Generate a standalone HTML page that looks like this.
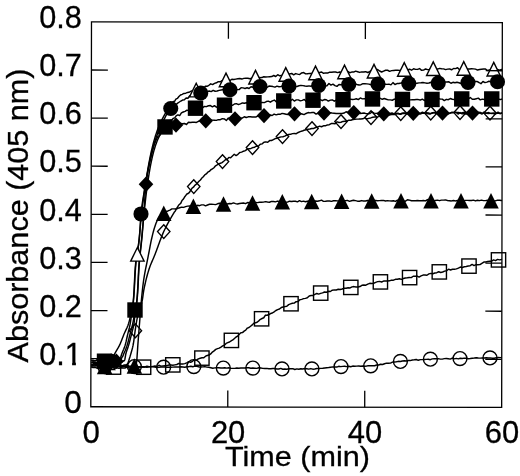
<!DOCTYPE html>
<html lang="en">
<head>
<meta charset="utf-8">
<title>Absorbance (405 nm) vs Time (min)</title>
<style>
html,body{margin:0;padding:0;background:#fff;}
body{width:520px;height:476px;overflow:hidden;}
svg{display:block;}
</style>
</head>
<body>
<svg width="520" height="476" viewBox="0 0 520 476">
<rect width="520" height="476" fill="#fff"/>
<g id="plot">
<path d="M91.15 362.2 L93.43 362.69 L95.74 362.59 L97.93 362.39 L100.01 362.78 L101.98 362.53 L103.83 363.21 L105.57 364 L107.2 362.9 L108.72 362.66 L110.12 362.13 L111.4 359.96 L112.55 357.95 L113.56 356.2 L114.42 354.38 L115.33 352.6 L116.34 350.86 L117.38 349.15 L118.39 347.42 L119.32 345.66 L120.15 343.85 L120.92 342.01 L121.66 340.15 L122.38 338.28 L123.11 336.41 L123.85 334.55 L124.65 332.71 L125.5 330.89 L126.36 329.07 L127.19 327.25 L127.94 325.4 L128.58 323.53 L129.14 321.62 L129.64 319.69 L130.11 317.74 L130.54 315.78 L130.96 313.81 L131.37 311.85 L131.77 309.89 L132.19 307.93 L132.58 305.96 L132.91 303.99 L133.15 302.02 L133.35 300.03 L133.53 298.05 L133.69 296.06 L133.83 294.06 L133.95 292.07 L134.07 290.07 L134.18 288.07 L134.27 286.06 L134.37 284.06 L134.46 282.06 L134.55 280.05 L134.65 278.05 L134.75 276.05 L134.86 274.05 L134.97 272.05 L135.1 270.05 L135.25 268.06 L135.41 266.07 L135.59 264.08 L135.79 262.1 L136.07 260.13 L136.44 258.16 L136.85 256.2 L137.22 254.23 L137.51 252.25 L137.78 250.27 L138.03 248.29 L138.28 246.3 L138.51 244.31 L138.73 242.32 L138.95 240.34 L139.16 238.35 L139.37 236.36 L139.57 234.37 L139.76 232.38 L139.95 230.39 L140.12 228.39 L140.3 226.4 L140.48 224.41 L140.66 222.42 L140.84 220.42 L141.03 218.43 L141.23 216.44 L141.44 214.46 L141.67 212.47 L141.9 210.48 L142.13 208.5 L142.38 206.51 L142.63 204.53 L142.89 202.54 L143.15 200.56 L143.42 198.58 L143.69 196.6 L143.97 194.61 L144.25 192.63 L144.54 190.65 L144.83 188.68 L145.12 186.7 L145.42 184.72 L145.72 182.74 L146.02 180.77 L146.33 178.79 L146.63 176.81 L146.95 174.83 L147.26 172.86 L147.59 170.88 L147.92 168.9 L148.26 166.93 L148.61 164.96 L148.97 162.99 L149.33 161.03 L149.71 159.07 L150.1 157.11 L150.51 155.16 L150.93 153.2 L151.36 151.25 L151.81 149.3 L152.28 147.34 L152.77 145.4 L153.27 143.46 L153.8 141.52 L154.34 139.59 L154.91 137.68 L155.49 135.77 L156.1 133.88 L156.75 132 L157.43 130.12 L158.16 128.24 L158.91 126.38 L159.7 124.53 L160.52 122.69 L161.37 120.88 L162.25 119.08 L163.15 117.32 L164.08 115.55 L165.06 113.79 L166.07 112.04 L167.13 110.97 L168.24 108.3 L169.38 106.94 L170.57 104.9 L171.8 103.46 L173.08 101.57 L174.45 101.55 L175.88 99.19 L177.37 98.42 L178.93 96.54 L180.53 94.99 L182.19 94.32 L183.94 93.46 L185.8 93.2 L187.73 92.43 L189.71 91.99 L191.72 90.86 L193.71 90.71 L195.67 91.65 L197.58 89.65 L199.47 88.77 L201.36 88.9 L203.25 88.81 L205.12 86.34 L207 86.31 L208.88 85.29 L210.75 83.85 L212.63 84.6 L214.51 83.43 L216.39 82.81 L218.28 81.69 L220.18 81.84 L222.09 80.74 L224.02 80.56 L225.95 79.64 L227.9 79.31 L229.86 80.59 L231.83 79.26 L233.81 79.54 L235.8 79.15 L237.79 78.73 L239.79 78.53 L241.8 79.06 L243.8 78.35 L245.81 78.29 L247.82 78.24 L249.83 78.78 L251.83 78.32 L253.83 77.98 L255.82 77.23 L257.81 76.55 L259.8 77.76 L261.8 77.57 L263.79 76.71 L265.78 76.91 L267.77 76.85 L269.76 76.68 L271.75 76.54 L273.74 75.52 L275.73 76.51 L277.72 74.68 L279.71 75.77 L281.71 75.39 L283.7 75.47 L285.69 75.93 L287.69 75.57 L289.69 73.87 L291.68 73.42 L293.68 74.81 L295.67 73.6 L297.67 74.1 L299.67 74.51 L301.67 72.92 L303.67 72.55 L305.66 73.88 L307.66 73.66 L309.66 73.4 L311.66 73.48 L313.66 72.86 L315.66 72.39 L317.66 73.11 L319.65 72.55 L321.65 72.07 L323.65 73.28 L325.65 72.87 L327.65 73.08 L329.65 72.17 L331.65 72.3 L333.64 72.03 L335.64 72.03 L337.64 72.62 L339.64 71.97 L341.64 72.6 L343.64 72.53 L345.64 73.48 L347.64 71.38 L349.64 72.7 L351.64 72.07 L353.64 72.08 L355.64 71.17 L357.64 71.73 L359.64 72.41 L361.64 71.87 L363.64 71.93 L365.64 71.66 L367.64 72.48 L369.63 71.72 L371.63 70.36 L373.63 71.2 L375.63 70.36 L377.63 69.5 L379.62 71.02 L381.62 72.02 L383.62 71.12 L385.61 70.25 L387.61 70.25 L389.6 71.35 L391.6 70.62 L393.6 70.41 L395.59 70.22 L397.59 70.15 L399.58 70.49 L401.58 70.24 L403.58 69.95 L405.58 69.13 L407.57 70 L409.57 69.22 L411.57 70.22 L413.57 68.75 L415.57 69.37 L417.57 69.4 L419.57 68.56 L421.57 70.34 L423.57 70.14 L425.57 68.95 L427.57 69.65 L429.57 69.38 L431.57 67.56 L433.57 69.25 L435.57 69.03 L437.57 69.09 L439.57 68.36 L441.57 68.82 L443.57 68.85 L445.57 69.64 L447.57 69.11 L449.57 68.88 L451.57 69.78 L453.57 68.51 L455.57 68.6 L457.57 67.73 L459.57 69.75 L461.57 69.38 L463.57 69.35 L465.57 69.21 L467.57 68.9 L469.57 69.01 L471.57 68.78 L473.56 68.88 L475.56 69.11 L477.56 70.06 L479.56 69.57 L481.56 69.28 L483.56 69.04 L485.56 69.07 L487.56 70.47 L489.56 69.86 L491.56 69.63 L493.56 69.39 L495.56 68.93 L497.56 69.56 L499.56 70.12 L501.56 69.36 L502 69.46" fill="none" stroke="#000" stroke-width="1.45" stroke-linejoin="round"/>
<path d="M91.15 364.54 L92.97 365.02 L94.95 364.99 L96.92 365.71 L98.9 365.89 L100.88 366.59 L102.87 366.35 L104.85 366.74 L106.84 366.98 L108.84 366.52 L110.83 366.45 L112.83 366.65 L114.83 366.6 L116.83 366.35 L118.83 366.72 L120.84 367.1 L122.84 366.54 L124.84 366.55 L126.85 366.34 L128.85 366.68 L130.85 366.29 L132.85 366.32 L134.85 366.92 L136.85 366.39 L138.85 366.91 L140.85 367.06 L142.85 366.79 L144.85 366.91 L146.85 367.32 L148.85 366.85 L150.85 366.81 L152.85 366.68 L154.85 367.08 L156.85 367.49 L158.85 367.4 L160.85 366.95 L162.85 366.98 L164.85 367.07 L166.85 367.25 L168.85 367.1 L170.85 367.17 L172.85 367.14 L174.85 366.94 L176.85 366.94 L178.85 366.95 L180.85 366.82 L182.85 366.91 L184.85 367.19 L186.85 366.83 L188.85 366.66 L190.84 366.19 L192.84 366.7 L194.84 366.12 L196.84 366.29 L198.84 366.93 L200.83 366.99 L202.83 366.9 L204.83 366.64 L206.83 367.13 L208.82 367.2 L210.82 367.68 L212.82 368.23 L214.81 367.85 L216.81 367.72 L218.81 367.71 L220.81 368.06 L222.8 368.05 L224.8 367.81 L226.8 368.13 L228.8 367.81 L230.8 368.38 L232.8 368.37 L234.8 368.37 L236.8 367.98 L238.8 368.23 L240.8 368.07 L242.8 368 L244.8 368.02 L246.8 367.78 L248.8 367.74 L250.8 368.3 L252.8 368.05 L254.8 368.16 L256.8 368.39 L258.8 367.75 L260.8 368.05 L262.8 368.36 L264.8 368.49 L266.8 368.38 L268.8 368.81 L270.8 368.69 L272.8 368.41 L274.8 368.55 L276.8 369.03 L278.79 368.99 L280.79 368.42 L282.79 369.24 L284.79 369.05 L286.79 369.24 L288.79 368.8 L290.8 368.83 L292.8 368.62 L294.8 369.53 L296.8 368.86 L298.8 369.3 L300.8 368.74 L302.8 368.94 L304.8 368.48 L306.8 368.8 L308.8 369.15 L310.8 368.59 L312.79 369.16 L314.79 368.93 L316.78 368.49 L318.78 368.5 L320.77 368.35 L322.76 368.27 L324.76 367.94 L326.75 367.66 L328.74 367.57 L330.73 367.17 L332.73 366.9 L334.72 367.02 L336.71 367.08 L338.71 366.34 L340.7 366.61 L342.7 366.37 L344.7 366.23 L346.7 366.63 L348.7 366.23 L350.7 366.69 L352.71 366.08 L354.71 366.34 L356.71 366.15 L358.71 365.98 L360.72 366.27 L362.72 366.04 L364.71 366.17 L366.71 365.95 L368.7 365.61 L370.69 365.77 L372.68 365.69 L374.66 365.74 L376.64 365.04 L378.62 364.98 L380.6 364.25 L382.57 364.5 L384.55 363.71 L386.52 363.16 L388.5 363.23 L390.47 363.15 L392.45 362.14 L394.42 361.92 L396.4 361.7 L398.38 361.34 L400.37 361.5 L402.36 361.01 L404.34 360.84 L406.34 360.98 L408.33 360.46 L410.32 360.58 L412.31 360.06 L414.31 359.83 L416.31 359.52 L418.3 360.3 L420.3 359.62 L422.3 359.64 L424.29 359.45 L426.29 359.4 L428.29 359.29 L430.29 359.68 L432.28 358.88 L434.28 358.7 L436.28 358.79 L438.28 358.66 L440.28 359.14 L442.28 359.12 L444.28 358.64 L446.28 358.5 L448.28 358.72 L450.28 359.13 L452.28 358.04 L454.28 358.84 L456.28 358.41 L458.28 358.9 L460.28 358.32 L462.28 358.48 L464.28 358.13 L466.28 358.22 L468.28 358.76 L470.28 358.57 L472.28 358.22 L474.28 358.06 L476.28 357.76 L478.28 358.08 L480.28 358.13 L482.28 358.07 L484.27 358.02 L486.27 357.71 L488.27 357.93 L490.27 357.88 L492.27 358.17 L494.27 358.26 L496.27 357.71 L498.27 357.5 L500.27 357.63 L502 357.45" fill="none" stroke="#000" stroke-width="1.45" stroke-linejoin="round"/>
<path d="M91.15 367.07 L93 367.53 L95 367.23 L97 368.11 L98.99 367.9 L100.99 368.17 L102.99 368.06 L104.99 367.89 L106.99 367.85 L108.99 368.22 L110.98 368.12 L112.98 368.49 L114.98 368.4 L116.98 367.78 L118.98 368.39 L120.97 367.71 L122.97 367.96 L124.97 368.02 L126.97 367.12 L128.97 367.98 L130.96 367.89 L132.96 367.62 L134.96 367.36 L136.95 367.25 L138.95 366.84 L140.95 367.02 L142.94 366.77 L144.94 366.93 L146.94 366.23 L148.94 366.76 L150.93 366.6 L152.93 366.35 L154.93 366.09 L156.93 366.41 L158.92 365.28 L160.92 366.1 L162.92 365.86 L164.91 365.72 L166.9 365.6 L168.89 364.96 L170.88 364.96 L172.87 365.16 L174.86 364.85 L176.84 364.51 L178.83 363.46 L180.82 364.08 L182.79 364.03 L184.76 363.61 L186.71 362.87 L188.66 361.65 L190.61 362.3 L192.55 361.28 L194.49 359.63 L196.4 360.32 L198.3 358.82 L200.17 358.21 L202 357.77 L203.79 357.82 L205.55 356.17 L207.28 355.46 L208.99 355.07 L210.69 353.91 L212.38 352.04 L214.08 350.88 L215.78 349.36 L217.5 348.59 L219.22 348.08 L220.94 347.04 L222.66 345.89 L224.38 345.26 L226.09 343.43 L227.79 342.7 L229.48 341.98 L231.15 340.83 L232.81 339.93 L234.44 338.48 L236.07 337 L237.68 336.12 L239.29 334.31 L240.89 332.82 L242.5 332.62 L244.11 331.15 L245.72 330.14 L247.35 328.07 L248.97 327.49 L250.59 326.21 L252.21 324.91 L253.83 323.12 L255.46 322.82 L257.1 322.22 L258.75 320.86 L260.41 319.31 L262.08 318.48 L263.77 317.76 L265.46 315.1 L267.16 315.23 L268.88 314.49 L270.61 313.54 L272.35 313.01 L274.1 311.8 L275.87 310.51 L277.65 309.62 L279.46 308.99 L281.28 307.56 L283.11 306.98 L284.96 306.62 L286.81 306.33 L288.67 304.62 L290.52 303.92 L292.38 303.29 L294.24 303.06 L296.1 301.69 L297.96 301.62 L299.82 299.77 L301.69 299.38 L303.56 298.65 L305.44 298.37 L307.32 297.79 L309.21 295.95 L311.1 295.56 L312.99 295.49 L314.89 294.43 L316.8 293.47 L318.71 294.08 L320.63 293.34 L322.56 292.87 L324.5 291.99 L326.45 292.25 L328.4 291.28 L330.36 291.5 L332.33 290.23 L334.3 289.9 L336.28 290.02 L338.25 289.28 L340.23 289.56 L342.21 289.03 L344.19 288.16 L346.16 288.27 L348.14 287.73 L350.11 287.94 L352.07 286.88 L354.04 286.59 L356 286.96 L357.97 287.04 L359.93 286.55 L361.9 285.3 L363.86 284.99 L365.83 285.21 L367.79 284.09 L369.76 283.34 L371.72 283.47 L373.69 283.26 L375.66 282.33 L377.63 281.62 L379.6 281.39 L381.57 282.01 L383.55 281.06 L385.53 281.04 L387.51 280.91 L389.49 280.81 L391.47 280.1 L393.45 280.2 L395.43 279.3 L397.41 279.26 L399.39 278.69 L401.37 279.37 L403.35 278.56 L405.33 277.95 L407.31 277.81 L409.28 277.55 L411.25 277.64 L413.22 276.26 L415.19 276.16 L417.15 276.09 L419.12 277.03 L421.08 275.94 L423.05 275.08 L425.01 275.06 L426.97 275.28 L428.93 273.85 L430.89 273.4 L432.86 273.72 L434.82 273 L436.78 272.69 L438.74 271.78 L440.71 272.49 L442.67 272.02 L444.63 271.12 L446.6 270.8 L448.56 269.2 L450.53 270.02 L452.49 269.27 L454.45 269.17 L456.42 268.9 L458.38 268.06 L460.34 267.06 L462.3 267.6 L464.27 266.72 L466.23 266.51 L468.19 265.99 L470.15 265.71 L472.11 264.41 L474.06 265.58 L476.02 264.71 L477.97 264.66 L479.92 264.61 L481.87 263.28 L483.83 262.02 L485.78 262 L487.73 261.43 L489.69 261.33 L491.65 261.19 L493.61 259.87 L495.57 260.56 L497.54 259.38 L499.51 259.88 L501.5 259.42 L502 259.26" fill="none" stroke="#000" stroke-width="1.45" stroke-linejoin="round"/>
<path d="M91.15 366.17 L93 365.98 L95 365.96 L97 365.53 L99 366.19 L101 366.94 L103 366.99 L105 366.73 L107.07 366.48 L109.21 365.92 L111.4 366.76 L113.63 366.15 L115.88 366.14 L118.12 366.03 L120.33 366.16 L122.51 365.91 L124.61 366.02 L126.63 365.58 L128.55 365.81 L130.34 366.81 L131.99 365.81 L133.47 365.66 L134.78 365.76 L135.98 363.79 L136.58 361.73 L136.83 359.8 L137 357.8 L137.13 355.75 L137.26 353.72 L137.41 351.73 L137.54 349.73 L137.66 347.73 L137.8 345.74 L137.94 343.74 L138.09 341.75 L138.24 339.75 L138.39 337.76 L138.55 335.77 L138.71 333.77 L138.86 331.78 L139.02 329.79 L139.18 327.79 L139.34 325.8 L139.5 323.8 L139.66 321.81 L139.81 319.82 L139.96 317.82 L140.11 315.83 L140.26 313.83 L140.42 311.84 L140.57 309.84 L140.74 307.85 L140.9 305.86 L141.08 303.87 L141.26 301.87 L141.44 299.88 L141.63 297.89 L141.82 295.9 L142.02 293.91 L142.23 291.91 L142.44 289.92 L142.66 287.94 L142.89 285.95 L143.14 283.97 L143.39 281.99 L143.67 280.01 L143.97 278.04 L144.29 276.06 L144.63 274.1 L145 272.13 L145.37 270.16 L145.76 268.2 L146.16 266.24 L146.56 264.28 L146.97 262.32 L147.37 260.35 L147.77 258.39 L148.16 256.43 L148.54 254.47 L148.91 252.5 L149.28 250.53 L149.65 248.57 L150.02 246.6 L150.4 244.63 L150.79 242.67 L151.2 240.72 L151.63 238.76 L152.07 236.82 L152.54 234.87 L153.03 232.92 L153.54 230.98 L154.09 229.06 L154.68 227.15 L155.32 225.27 L156.02 223.35 L156.79 221.46 L157.65 219.66 L158.63 217.6 L159.84 216.01 L161.25 214.67 L162.79 212.7 L164.4 211.95 L166.13 211.5 L167.98 210.95 L169.92 210.13 L171.89 208.89 L173.86 208.89 L175.79 208.94 L177.73 208.43 L179.69 207.8 L181.66 207.12 L183.64 207.4 L185.63 206.62 L187.62 206.11 L189.61 206 L191.61 206.67 L193.59 205.97 L195.58 206.14 L197.57 205.3 L199.56 205.68 L201.55 204.89 L203.54 204.9 L205.54 205.8 L207.53 204.96 L209.53 204.31 L211.53 204.34 L213.52 204.38 L215.52 204.61 L217.52 203.81 L219.52 203.2 L221.52 203.68 L223.51 203.71 L225.51 203.65 L227.51 204.05 L229.51 203.58 L231.51 203.7 L233.5 202.87 L235.5 203.59 L237.5 204.02 L239.5 203.43 L241.5 203.17 L243.5 203.07 L245.5 203.66 L247.5 202.51 L249.5 202.77 L251.5 202.92 L253.5 202.96 L255.49 202.4 L257.49 202.6 L259.49 202.27 L261.49 202.33 L263.49 202.12 L265.48 201.61 L267.48 201.96 L269.48 202.21 L271.48 201.38 L273.48 201.58 L275.47 201.86 L277.47 201.09 L279.47 201.53 L281.47 200.99 L283.47 201.84 L285.47 202.28 L287.47 202.13 L289.47 201.21 L291.47 201.57 L293.47 201.3 L295.47 201.27 L297.47 201.83 L299.47 200.67 L301.47 201.6 L303.47 201.14 L305.47 201.71 L307.47 201.21 L309.47 200.85 L311.47 201.21 L313.47 201.38 L315.47 201.09 L317.47 201.25 L319.47 200.83 L321.47 200.17 L323.47 201.38 L325.47 201.28 L327.47 201.05 L329.47 201 L331.47 201.38 L333.47 200.77 L335.47 200.66 L337.47 200.85 L339.47 201.39 L341.47 200.35 L343.47 201.36 L345.47 200.62 L347.47 200.42 L349.47 201.35 L351.47 200.8 L353.47 200.3 L355.47 200.66 L357.47 201.17 L359.47 201.26 L361.47 200.6 L363.47 200.92 L365.47 201.03 L367.47 200.47 L369.47 200.86 L371.47 200.69 L373.47 200.47 L375.47 200.47 L377.47 200.68 L379.47 200.65 L381.47 200.39 L383.47 200.43 L385.47 201.03 L387.47 200.65 L389.47 200.9 L391.47 201.02 L393.47 200.76 L395.47 201.42 L397.47 200.18 L399.47 200.82 L401.47 200.37 L403.47 201.24 L405.47 201.18 L407.47 199.72 L409.47 200.11 L411.47 200.77 L413.47 200.82 L415.47 200.79 L417.47 200.47 L419.47 200.68 L421.47 200.76 L423.47 200.47 L425.47 200.91 L427.47 199.6 L429.47 200.75 L431.47 200.09 L433.47 200.88 L435.47 200.41 L437.47 200.14 L439.47 200.65 L441.47 200.14 L443.47 200.13 L445.47 199.87 L447.47 200.49 L449.47 200.7 L451.47 200.91 L453.47 200.44 L455.47 200.92 L457.47 200.51 L459.47 200.46 L461.47 200.73 L463.47 200.92 L465.47 200.36 L467.47 200.4 L469.47 200.43 L471.47 200.53 L473.47 200.13 L475.47 200.9 L477.47 200.32 L479.47 200.66 L481.47 200.14 L483.47 200.61 L485.47 200.62 L487.47 200.29 L489.47 201.26 L491.47 200.6 L493.47 201.15 L495.47 200.82 L497.47 200.16 L499.47 200.26 L501.47 200.58 L502 200.42" fill="none" stroke="#000" stroke-width="1.45" stroke-linejoin="round"/>
<path d="M91.15 364.23 L93.1 364.01 L95.18 363.03 L97.23 363.87 L99.27 362.53 L101.28 363.9 L103.28 363.02 L105.25 362.77 L107.21 362.79 L109.16 362.77 L111.09 361.41 L113 360.86 L114.91 360.88 L116.81 359.88 L118.83 359.86 L120.6 360.47 L121.78 357.62 L122.69 356.46 L123.49 354.45 L124.28 352.56 L125.09 350.73 L125.85 348.87 L126.56 347 L127.19 345.11 L127.74 343.2 L128.26 341.26 L128.74 339.32 L129.21 337.37 L129.69 335.43 L130.19 333.49 L130.71 331.56 L131.24 329.62 L131.76 327.69 L132.25 325.75 L132.7 323.81 L133.1 321.85 L133.47 319.89 L133.83 317.92 L134.17 315.95 L134.51 313.97 L134.85 312 L135.22 310.04 L135.63 308.07 L136.03 306.11 L136.38 304.14 L136.64 302.17 L136.83 300.19 L137.01 298.2 L137.18 296.21 L137.33 294.22 L137.47 292.23 L137.59 290.24 L137.71 288.24 L137.82 286.24 L137.93 284.24 L138.03 282.24 L138.13 280.24 L138.22 278.24 L138.32 276.23 L138.42 274.23 L138.53 272.23 L138.64 270.23 L138.76 268.23 L138.89 266.23 L139.03 264.24 L139.18 262.24 L139.35 260.25 L139.53 258.26 L139.73 256.27 L139.94 254.28 L140.15 252.29 L140.37 250.31 L140.6 248.32 L140.82 246.33 L141.04 244.34 L141.26 242.35 L141.47 240.36 L141.66 238.37 L141.85 236.38 L142.04 234.39 L142.22 232.4 L142.4 230.41 L142.58 228.42 L142.76 226.42 L142.93 224.43 L143.1 222.44 L143.27 220.45 L143.43 218.45 L143.6 216.46 L143.76 214.47 L143.92 212.47 L144.06 210.48 L144.2 208.48 L144.33 206.48 L144.46 204.48 L144.59 202.48 L144.71 200.48 L144.84 198.48 L144.97 196.49 L145.11 194.49 L145.26 192.5 L145.41 190.5 L145.58 188.51 L145.76 186.53 L145.96 184.54 L146.18 182.56 L146.43 180.58 L146.71 178.6 L147.02 176.62 L147.34 174.65 L147.69 172.67 L148.06 170.7 L148.45 168.73 L148.85 166.76 L149.27 164.8 L149.7 162.85 L150.14 160.9 L150.59 158.95 L151.04 157.01 L151.51 155.05 L151.98 153.06 L152.48 151.06 L153 149.06 L153.56 147.07 L154.16 145.12 L154.8 143.22 L155.51 141.39 L156.28 139.64 L157.12 137.98 L158.15 135.91 L159.4 135.84 L160.81 133.42 L162.35 131.8 L163.95 131.12 L165.57 130.84 L167.22 129.19 L169 127.62 L170.88 126.96 L172.81 126.41 L174.75 125.07 L176.67 124.3 L178.6 124.52 L180.56 123.52 L182.53 123.69 L184.51 123.46 L186.5 124.5 L188.49 122.3 L190.47 122.46 L192.45 122.17 L194.44 122.29 L196.42 122.42 L198.41 121.27 L200.4 120.86 L202.39 120.17 L204.39 120.42 L206.38 121.12 L208.37 120.66 L210.36 119.88 L212.36 120.12 L214.35 120.23 L216.35 120.39 L218.35 119.61 L220.35 119.7 L222.34 118.63 L224.34 118.91 L226.34 120.45 L228.33 118.04 L230.33 119.01 L232.32 119.2 L234.31 118.68 L236.31 118.25 L238.3 118.5 L240.28 118.32 L242.27 118.05 L244.26 116.73 L246.24 117.52 L248.23 116.84 L250.21 116.77 L252.2 116.99 L254.19 116.99 L256.17 116.91 L258.16 115.85 L260.15 116.49 L262.14 116.46 L264.13 116.27 L266.12 116.27 L268.12 115.21 L270.11 115.05 L272.11 115.51 L274.1 114.07 L276.1 114.88 L278.1 114.32 L280.09 114.3 L282.09 113.36 L284.09 113.77 L286.09 114.19 L288.09 114.64 L290.08 114.62 L292.08 113.89 L294.08 113.75 L296.08 113.3 L298.08 113.97 L300.08 113.52 L302.08 113.97 L304.07 114.6 L306.07 113.48 L308.07 112.55 L310.07 112.88 L312.07 112.48 L314.07 112.59 L316.07 114.05 L318.07 113.36 L320.07 112.27 L322.07 113.53 L324.07 113.85 L326.07 112.84 L328.07 112.61 L330.07 112.77 L332.07 113.09 L334.07 113.26 L336.07 113.54 L338.07 113.52 L340.07 113.46 L342.07 113.53 L344.07 113.08 L346.07 111.73 L348.07 112.55 L350.07 112.8 L352.07 112.37 L354.07 113.15 L356.07 112.41 L358.06 112.11 L360.06 113.61 L362.06 113.23 L364.06 113.07 L366.06 113.61 L368.05 113.82 L370.05 113.51 L372.05 111.95 L374.05 113.14 L376.05 113.37 L378.04 113.14 L380.04 113.92 L382.04 114.55 L384.04 113.56 L386.04 113.16 L388.04 115.04 L390.04 113.53 L392.04 113.03 L394.04 113.88 L396.04 113.95 L398.04 113.23 L400.04 114.08 L402.04 113.27 L404.04 112.96 L406.04 113.58 L408.04 113.89 L410.04 113.02 L412.04 113.56 L414.04 113.28 L416.04 115.01 L418.04 112.87 L420.04 114.1 L422.04 113.22 L424.04 113.15 L426.04 113.64 L428.04 113.72 L430.04 113.92 L432.04 113.34 L434.04 112.77 L436.04 112.8 L438.04 113.41 L440.04 113.45 L442.04 113.94 L444.04 113.35 L446.04 113.74 L448.04 114.01 L450.04 113.2 L452.04 112.21 L454.04 112.39 L456.04 112.24 L458.04 114.05 L460.04 112.59 L462.04 113.84 L464.04 113.45 L466.04 114.13 L468.04 113.7 L470.04 113.04 L472.04 112.98 L474.04 113.15 L476.04 113.21 L478.04 112.78 L480.04 113.08 L482.04 114.07 L484.04 112.08 L486.04 113.26 L488.04 112.56 L490.04 113.21 L492.04 113.6 L494.04 113.07 L496.04 113.56 L498.04 112.15 L500.04 113.76 L502 112.74" fill="none" stroke="#000" stroke-width="1.45" stroke-linejoin="round"/>
<path d="M91.15 365.45 L93 365.27 L95 364.17 L97 364.9 L99 365.29 L101 365.82 L103 365.31 L105 365.3 L107.02 364.63 L109.18 365.76 L111.43 365.88 L113.75 365.12 L116.06 364.96 L118.32 364.31 L120.47 365.21 L122.47 365.81 L124.25 364.87 L125.78 364.91 L126.99 364.42 L127.91 363.16 L128.66 361.04 L129.33 358.72 L129.96 356.8 L130.53 354.88 L131.07 352.95 L131.63 351.03 L132.18 349.1 L132.68 347.17 L133.09 345.22 L133.44 343.25 L133.74 341.28 L134.02 339.3 L134.28 337.31 L134.53 335.33 L134.79 333.34 L135.06 331.35 L135.35 329.37 L135.65 327.4 L135.96 325.42 L136.28 323.44 L136.61 321.47 L136.95 319.5 L137.33 317.54 L137.72 315.57 L138.13 313.61 L138.57 311.65 L139.07 309.72 L139.63 307.81 L140.4 305.96 L141.24 304.12 L141.86 302.25 L142.27 300.31 L142.6 298.35 L142.89 296.36 L143.15 294.36 L143.44 292.37 L143.76 290.39 L144.14 288.43 L144.54 286.47 L144.96 284.51 L145.39 282.56 L145.85 280.61 L146.33 278.67 L146.83 276.73 L147.36 274.8 L147.9 272.87 L148.48 270.95 L149.08 269.05 L149.71 267.16 L150.4 265.29 L151.15 263.43 L151.94 261.59 L152.75 259.76 L153.55 257.93 L154.34 256.08 L155.09 254.23 L155.81 252.36 L156.51 250.48 L157.2 248.6 L157.88 246.71 L158.55 244.82 L159.23 242.93 L159.92 241.05 L160.62 239.17 L161.34 237.31 L162.08 235.46 L162.85 233.62 L163.65 231.81 L164.49 230.01 L165.36 228.21 L166.26 226.43 L167.18 224.65 L168.12 222.88 L169.09 221.12 L170.07 219.36 L171.08 217.62 L172.1 215.89 L173.14 214.17 L174.2 212.33 L175.27 211.14 L176.35 208.6 L177.45 207.32 L178.55 205.25 L179.68 204.18 L180.83 203.15 L182 200.57 L183.19 199.34 L184.41 197.29 L185.64 195.6 L186.9 193.99 L188.17 193.51 L189.46 192.34 L190.77 190.07 L192.1 188.11 L193.44 187.22 L194.79 185.36 L196.17 184.37 L197.56 182.73 L198.97 181.29 L200.4 179.99 L201.84 178.09 L203.3 176.75 L204.78 174.83 L206.27 173.96 L207.78 172.21 L209.31 171.39 L210.85 169.75 L212.4 168.89 L213.97 167.78 L215.56 165.81 L217.16 164.87 L218.77 163.68 L220.4 163.25 L222.04 162.57 L223.7 161.21 L225.39 159.75 L227.11 159.52 L228.86 157.4 L230.63 157.7 L232.43 155.95 L234.24 154.24 L236.07 155.57 L237.92 154.32 L239.77 152.47 L241.63 152.15 L243.5 151.21 L245.37 150.57 L247.24 149.16 L249.1 148.72 L250.96 148.42 L252.81 147.56 L254.65 147.2 L256.51 146 L258.36 146.17 L260.23 144.21 L262.09 143.87 L263.96 142.29 L265.84 141.85 L267.72 142.18 L269.6 140.58 L271.48 140.5 L273.37 139.59 L275.26 138.55 L277.16 138.19 L279.06 137.49 L280.96 136.89 L282.86 136.79 L284.77 136.16 L286.68 135.1 L288.6 134.41 L290.52 134.34 L292.45 133.65 L294.38 133.57 L296.31 133.7 L298.25 132.47 L300.18 131.61 L302.12 131.05 L304.06 130.28 L306 129.76 L307.94 129.23 L309.88 128.98 L311.82 128.48 L313.76 128.44 L315.69 127.48 L317.63 127.05 L319.57 126.13 L321.5 126.76 L323.44 125.79 L325.38 125.8 L327.32 124.91 L329.27 124.7 L331.21 123.53 L333.16 123.47 L335.11 123.83 L337.06 121.85 L339.02 122.43 L340.98 122.28 L342.95 121.44 L344.92 121.27 L346.89 121.18 L348.87 120.12 L350.85 120.28 L352.83 119.5 L354.82 119.33 L356.81 119.11 L358.79 119.06 L360.78 118.94 L362.77 118.82 L364.76 117.81 L366.75 118.96 L368.73 118.37 L370.72 117.94 L372.7 117.22 L374.68 117.03 L376.66 116.97 L378.64 116.59 L380.62 115.4 L382.6 116.06 L384.58 116.62 L386.56 114.34 L388.54 115.2 L390.52 114.67 L392.5 114.21 L394.49 114.6 L396.47 113.36 L398.46 113.77 L400.45 114.21 L402.44 113.47 L404.43 113.33 L406.43 113.5 L408.43 113.23 L410.43 114.02 L412.43 112.98 L414.43 113.68 L416.43 112.78 L418.43 113.54 L420.43 113.2 L422.44 112.16 L424.44 113.19 L426.44 112.73 L428.44 112.95 L430.44 113.74 L432.44 112.61 L434.44 112.59 L436.44 113.58 L438.44 112.99 L440.44 113.53 L442.44 112.99 L444.44 112.45 L446.44 112.74 L448.44 113.23 L450.44 113.08 L452.44 112.66 L454.44 112.65 L456.44 112.57 L458.44 112.36 L460.44 113.39 L462.44 112.61 L464.44 112.16 L466.44 112.46 L468.44 113 L470.44 113 L472.44 112.73 L474.44 112.56 L476.44 112.9 L478.44 112.25 L480.44 112.44 L482.43 113.35 L484.43 112.86 L486.43 113.23 L488.43 113.6 L490.43 113.37 L492.43 113.11 L494.43 113.98 L496.43 113.37 L498.43 112.95 L500.43 113.4 L502 113.27" fill="none" stroke="#000" stroke-width="1.45" stroke-linejoin="round"/>
<path d="M91.15 360.67 L93 361.25 L95 361.1 L97 359.99 L99 361.09 L101 361.03 L103 360.93 L105 360.19 L107.12 360.98 L109.42 361.18 L111.83 361.26 L114.25 360.5 L116.59 361.59 L118.78 360.45 L120.73 361.06 L122.36 362 L123.57 360.77 L124.33 360.66 L124.85 359.46 L125.27 357.09 L125.69 354.55 L126.21 352.48 L126.84 350.58 L127.51 348.69 L128.16 346.8 L128.74 344.89 L129.28 342.96 L129.79 341.03 L130.29 339.09 L130.78 337.15 L131.26 335.21 L131.74 333.27 L132.22 331.33 L132.75 329.39 L133.26 327.45 L133.71 325.5 L134.04 323.54 L134.26 321.56 L134.44 319.57 L134.59 317.57 L134.72 315.57 L134.88 313.56 L135.06 311.57 L135.3 309.59 L135.69 307.63 L136.18 305.68 L136.61 303.73 L136.88 301.76 L137.08 299.78 L137.27 297.8 L137.44 295.82 L137.59 293.83 L137.72 291.84 L137.85 289.84 L137.97 287.84 L138.07 285.84 L138.18 283.84 L138.27 281.84 L138.37 279.84 L138.46 277.83 L138.56 275.83 L138.66 273.83 L138.76 271.82 L138.87 269.82 L138.99 267.82 L139.12 265.82 L139.26 263.83 L139.41 261.83 L139.59 259.84 L139.77 257.85 L139.97 255.86 L140.18 253.87 L140.4 251.88 L140.62 249.9 L140.84 247.91 L141.07 245.92 L141.29 243.93 L141.5 241.94 L141.71 239.95 L141.9 237.96 L142.09 235.97 L142.27 233.98 L142.44 231.99 L142.6 229.99 L142.77 228 L142.93 226.01 L143.1 224.01 L143.27 222.02 L143.44 220.03 L143.61 218.03 L143.8 216.04 L143.99 214.05 L144.19 212.06 L144.39 210.07 L144.6 208.08 L144.81 206.09 L145.03 204.1 L145.25 202.12 L145.47 200.13 L145.7 198.14 L145.94 196.15 L146.18 194.17 L146.43 192.18 L146.68 190.2 L146.95 188.22 L147.21 186.24 L147.49 184.26 L147.78 182.28 L148.07 180.3 L148.36 178.32 L148.67 176.34 L148.99 174.36 L149.31 172.38 L149.65 170.4 L150 168.43 L150.36 166.46 L150.73 164.49 L151.12 162.53 L151.53 160.58 L151.95 158.63 L152.39 156.69 L152.85 154.75 L153.34 152.81 L153.87 150.86 L154.43 148.93 L155.03 147.01 L155.66 145.1 L156.33 143.21 L157.04 141.36 L157.78 139.53 L158.59 137.7 L159.47 135.88 L160.41 134.07 L161.41 132.3 L162.46 130.12 L163.56 128.97 L164.71 125.9 L165.92 126.21 L167.22 123.89 L168.6 123.32 L170.05 120.24 L171.56 120.36 L173.12 118.47 L174.72 117.86 L176.35 115.68 L177.99 114.84 L179.67 115.6 L181.42 112.82 L183.23 111.99 L185.08 111.38 L186.97 110.13 L188.88 110.73 L190.81 110.4 L192.74 108.38 L194.67 107.32 L196.59 108.72 L198.53 108.38 L200.48 107.93 L202.45 107.88 L204.43 106.44 L206.42 106.65 L208.42 105.73 L210.43 105.53 L212.44 106.79 L214.45 105.64 L216.46 107.25 L218.48 105.76 L220.49 105.17 L222.49 105.86 L224.48 106.28 L226.48 105.31 L228.47 104.1 L230.46 104.87 L232.45 105.29 L234.44 103.99 L236.43 103.64 L238.43 104.54 L240.42 103.85 L242.41 102.93 L244.41 103.2 L246.4 102.81 L248.39 103.29 L250.39 103.03 L252.38 103.5 L254.38 103.1 L256.37 101.6 L258.37 102.64 L260.36 102.8 L262.36 102.4 L264.35 102.61 L266.35 101.53 L268.35 101.16 L270.34 102.17 L272.34 100.85 L274.34 100.08 L276.34 101.89 L278.33 100.74 L280.33 100.9 L282.33 100.16 L284.33 100.13 L286.32 100.17 L288.32 100.58 L290.32 100.96 L292.32 99.3 L294.32 101.07 L296.32 99.86 L298.32 99.88 L300.32 100.88 L302.32 100.38 L304.32 99.46 L306.32 101.44 L308.32 99.78 L310.32 100.4 L312.32 100.33 L314.32 101.02 L316.32 99.86 L318.32 100.71 L320.32 99.62 L322.32 100.71 L324.32 99.55 L326.32 99.76 L328.31 101.08 L330.31 100.11 L332.31 99.95 L334.31 101.2 L336.31 100.04 L338.31 99.3 L340.31 100.19 L342.31 99 L344.31 100.35 L346.31 100.34 L348.31 99.22 L350.31 99.12 L352.31 99.54 L354.31 99.38 L356.31 98.71 L358.31 99.57 L360.31 97.94 L362.31 98.85 L364.31 98.82 L366.31 98.85 L368.3 99.17 L370.3 98.22 L372.3 99.3 L374.3 98.85 L376.3 98.58 L378.3 98.18 L380.3 98.32 L382.3 99.29 L384.3 98.54 L386.3 99.21 L388.3 99.86 L390.3 99.89 L392.3 100.25 L394.3 99.18 L396.3 98.74 L398.3 100.04 L400.3 99.63 L402.3 100.12 L404.3 99.46 L406.3 100.17 L408.3 99.96 L410.3 99.88 L412.3 99.75 L414.3 99.69 L416.3 99.59 L418.3 99.59 L420.3 100.04 L422.3 99.14 L424.3 100.49 L426.3 99.39 L428.3 100.04 L430.3 99.4 L432.3 99.3 L434.3 100.66 L436.3 99.24 L438.3 98.63 L440.3 98.93 L442.3 99.12 L444.3 100.56 L446.3 99.34 L448.3 99.73 L450.3 98.51 L452.3 99.28 L454.3 99.43 L456.3 100.08 L458.3 98.55 L460.3 99.32 L462.29 99.13 L464.29 98.34 L466.29 98.94 L468.29 98.79 L470.29 97.55 L472.29 99.31 L474.29 99.27 L476.29 98.69 L478.29 98.15 L480.29 99.84 L482.29 99.11 L484.29 99.56 L486.29 99.8 L488.29 98.64 L490.29 99.44 L492.29 98.81 L494.29 98.91 L496.29 98.88 L498.29 98.92 L500.29 99.58 L502 98.97" fill="none" stroke="#000" stroke-width="1.45" stroke-linejoin="round"/>
<path d="M91.15 360.11 L93.01 360.3 L95.01 360.89 L97.01 360.31 L99.01 360.68 L101.01 361.04 L103.01 360.79 L105 361.1 L107 360.82 L108.99 362.4 L110.98 362 L113.09 361.41 L115.34 360.92 L117.41 361.95 L118.95 360.41 L119.94 359.19 L120.71 357.25 L121.39 354.98 L122.11 352.93 L122.9 351.08 L123.69 349.24 L124.43 347.38 L125.06 345.49 L125.59 343.58 L126.07 341.63 L126.5 339.68 L126.93 337.72 L127.37 335.76 L127.84 333.82 L128.33 331.87 L128.82 329.93 L129.31 327.99 L129.75 326.04 L130.15 324.09 L130.49 322.12 L130.79 320.14 L131.06 318.16 L131.33 316.18 L131.59 314.19 L131.86 312.21 L132.15 310.23 L132.47 308.25 L132.79 306.28 L133.09 304.3 L133.32 302.32 L133.51 300.33 L133.68 298.34 L133.84 296.35 L133.98 294.36 L134.12 292.36 L134.24 290.36 L134.36 288.37 L134.47 286.37 L134.58 284.37 L134.68 282.37 L134.78 280.37 L134.89 278.37 L134.99 276.37 L135.1 274.37 L135.22 272.37 L135.35 270.37 L135.48 268.38 L135.63 266.38 L135.79 264.39 L135.96 262.4 L136.16 260.42 L136.4 258.43 L136.68 256.45 L136.98 254.47 L137.3 252.5 L137.62 250.52 L137.95 248.54 L138.27 246.57 L138.58 244.59 L138.87 242.61 L139.12 240.63 L139.34 238.64 L139.52 236.65 L139.67 234.66 L139.81 232.67 L139.93 230.67 L140.05 228.67 L140.16 226.67 L140.27 224.67 L140.38 222.67 L140.5 220.67 L140.63 218.68 L140.77 216.68 L140.93 214.69 L141.12 212.71 L141.33 210.72 L141.56 208.74 L141.82 206.76 L142.09 204.78 L142.38 202.8 L142.68 200.82 L143 198.84 L143.33 196.86 L143.66 194.89 L144 192.92 L144.34 190.94 L144.68 188.97 L145.02 187 L145.36 185.03 L145.69 183.05 L146.03 181.08 L146.36 179.11 L146.7 177.13 L147.04 175.16 L147.38 173.18 L147.73 171.21 L148.09 169.24 L148.46 167.27 L148.84 165.31 L149.23 163.35 L149.63 161.39 L150.04 159.43 L150.47 157.49 L150.92 155.54 L151.39 153.6 L151.88 151.67 L152.39 149.73 L152.93 147.8 L153.49 145.88 L154.07 143.95 L154.67 142.04 L155.29 140.14 L155.93 138.24 L156.59 136.36 L157.26 134.48 L157.97 132.62 L158.72 130.76 L159.5 128.91 L160.32 127.08 L161.16 125.26 L162.03 123.45 L162.91 121.67 L163.82 119.88 L164.74 118.05 L165.68 116.22 L166.66 114.42 L167.69 112.67 L168.78 110.38 L169.94 108.99 L171.18 108.27 L172.55 106.35 L174.04 105.11 L175.63 105.12 L177.3 103.44 L179.03 102.27 L180.8 101.03 L182.58 100.02 L184.35 99.69 L186.12 97.96 L187.93 98.27 L189.78 95.8 L191.67 95.47 L193.57 94.1 L195.5 94.09 L197.44 94.05 L199.38 94.14 L201.31 92.5 L203.26 92.58 L205.21 92.07 L207.18 91.58 L209.16 91.06 L211.15 91.59 L213.14 90.31 L215.14 91.22 L217.14 90.98 L219.15 90.39 L221.15 90 L223.16 89.59 L225.16 91.36 L227.16 89.24 L229.16 90.78 L231.15 89.98 L233.13 89.17 L235.12 88.44 L237.11 89.5 L239.09 89.64 L241.08 87.78 L243.07 87.9 L245.05 88.45 L247.04 87.77 L249.03 88.54 L251.02 86.78 L253.01 87.26 L255 86.02 L256.99 87.89 L258.98 86.1 L260.97 85.15 L262.97 86.34 L264.97 86.29 L266.96 87.48 L268.96 86.09 L270.96 86.25 L272.96 86.58 L274.96 87.15 L276.97 86.13 L278.97 86.77 L280.97 86.43 L282.97 85.91 L284.97 86.11 L286.97 86.05 L288.97 85.45 L290.97 86.7 L292.97 85.1 L294.97 86.61 L296.97 86.45 L298.97 85.79 L300.97 85.35 L302.97 85.65 L304.97 86.04 L306.97 86.17 L308.97 85.86 L310.97 86.25 L312.97 85.28 L314.97 85.72 L316.97 84.6 L318.97 85.95 L320.97 85.54 L322.97 85.14 L324.97 86.02 L326.96 85.67 L328.96 83.49 L330.96 85.13 L332.96 84.16 L334.96 85.59 L336.96 86.37 L338.96 84.49 L340.96 84.78 L342.95 84.51 L344.95 84.81 L346.95 84.93 L348.95 85.27 L350.95 83.86 L352.95 85.35 L354.95 83.81 L356.95 84.5 L358.95 85 L360.95 84.7 L362.95 83.67 L364.95 83.78 L366.95 83.9 L368.95 84.11 L370.95 84.8 L372.95 83.31 L374.95 84.33 L376.95 84.38 L378.95 84.32 L380.95 84.23 L382.95 84.83 L384.95 84.18 L386.95 84.37 L388.95 84.16 L390.95 84.86 L392.95 82.62 L394.95 84.49 L396.95 83.54 L398.94 83.49 L400.94 83.05 L402.94 82.47 L404.94 83.33 L406.94 83.12 L408.94 83.79 L410.94 82.58 L412.94 84.29 L414.94 83.56 L416.94 83.21 L418.94 82.9 L420.94 82.82 L422.94 82.58 L424.94 82.9 L426.94 83.2 L428.94 83.05 L430.94 82.28 L432.94 82.93 L434.94 82.52 L436.94 83.12 L438.94 84.11 L440.94 83.33 L442.94 82.74 L444.94 81.92 L446.94 82.01 L448.94 81.82 L450.94 83.23 L452.94 82.31 L454.94 82.77 L456.94 82.33 L458.94 82.72 L460.94 83.47 L462.94 82.19 L464.94 82.36 L466.94 82.04 L468.93 83.01 L470.93 81.82 L472.93 81.7 L474.93 81.5 L476.93 81.43 L478.93 82.5 L480.93 83.7 L482.93 81.5 L484.93 82.61 L486.93 82.13 L488.93 81.27 L490.93 81.71 L492.93 81.69 L494.93 81.38 L496.93 82.92 L498.93 80.59 L500.93 81.94 L502 81.9" fill="none" stroke="#000" stroke-width="1.45" stroke-linejoin="round"/>
<g>
<path d="M108 356 L114.7 369.6 L101.3 369.6Z" fill="#fff" stroke="#000" stroke-width="1.4" stroke-linejoin="miter"/>
<path d="M137.4 247.5 L144.1 261.1 L130.7 261.1Z" fill="#fff" stroke="#000" stroke-width="1.4" stroke-linejoin="miter"/>
<path d="M196.2 83.3 L202.9 96.9 L189.5 96.9Z" fill="#fff" stroke="#000" stroke-width="1.4" stroke-linejoin="miter"/>
<path d="M226 73.1 L232.7 86.7 L219.3 86.7Z" fill="#fff" stroke="#000" stroke-width="1.4" stroke-linejoin="miter"/>
<path d="M255.5 70.4 L262.2 84 L248.8 84Z" fill="#fff" stroke="#000" stroke-width="1.4" stroke-linejoin="miter"/>
<path d="M285.75 67.6 L292.45 81.2 L279.05 81.2Z" fill="#fff" stroke="#000" stroke-width="1.4" stroke-linejoin="miter"/>
<path d="M315.5 66.1 L322.2 79.7 L308.8 79.7Z" fill="#fff" stroke="#000" stroke-width="1.4" stroke-linejoin="miter"/>
<path d="M344.5 65.1 L351.2 78.7 L337.8 78.7Z" fill="#fff" stroke="#000" stroke-width="1.4" stroke-linejoin="miter"/>
<path d="M374 64.4 L380.7 78 L367.3 78Z" fill="#fff" stroke="#000" stroke-width="1.4" stroke-linejoin="miter"/>
<path d="M404.25 62.6 L410.95 76.2 L397.55 76.2Z" fill="#fff" stroke="#000" stroke-width="1.4" stroke-linejoin="miter"/>
<path d="M433.25 61.9 L439.95 75.5 L426.55 75.5Z" fill="#fff" stroke="#000" stroke-width="1.4" stroke-linejoin="miter"/>
<path d="M463.75 61.6 L470.45 75.2 L457.05 75.2Z" fill="#fff" stroke="#000" stroke-width="1.4" stroke-linejoin="miter"/>
<path d="M493.75 62.4 L500.45 76 L487.05 76Z" fill="#fff" stroke="#000" stroke-width="1.4" stroke-linejoin="miter"/>
</g>
<g>
<circle cx="104.7" cy="366.6" r="6.95" fill="none" stroke="#000" stroke-width="1.4"/>
<circle cx="134.4" cy="366.6" r="6.95" fill="none" stroke="#000" stroke-width="1.4"/>
<circle cx="163.6" cy="367.2" r="6.95" fill="none" stroke="#000" stroke-width="1.4"/>
<circle cx="193.8" cy="366.6" r="6.95" fill="none" stroke="#000" stroke-width="1.4"/>
<circle cx="223.3" cy="368.1" r="6.95" fill="none" stroke="#000" stroke-width="1.4"/>
<circle cx="252.8" cy="368.1" r="6.95" fill="none" stroke="#000" stroke-width="1.4"/>
<circle cx="282" cy="368.9" r="6.95" fill="none" stroke="#000" stroke-width="1.4"/>
<circle cx="311.9" cy="368.9" r="6.95" fill="none" stroke="#000" stroke-width="1.4"/>
<circle cx="341" cy="366.6" r="6.95" fill="none" stroke="#000" stroke-width="1.4"/>
<circle cx="370.7" cy="365.8" r="6.95" fill="none" stroke="#000" stroke-width="1.4"/>
<circle cx="400.4" cy="361.4" r="6.95" fill="none" stroke="#000" stroke-width="1.4"/>
<circle cx="430.4" cy="359.2" r="6.95" fill="none" stroke="#000" stroke-width="1.4"/>
<circle cx="460" cy="358.6" r="6.95" fill="none" stroke="#000" stroke-width="1.4"/>
<circle cx="490" cy="357.9" r="6.95" fill="none" stroke="#000" stroke-width="1.4"/>
</g>
<g>
<rect x="106.35" y="359.95" width="14.3" height="14.3" fill="none" stroke="#000" stroke-width="1.4"/>
<rect x="136.45" y="360.05" width="14.3" height="14.3" fill="none" stroke="#000" stroke-width="1.4"/>
<rect x="165.65" y="357.73" width="14.3" height="14.3" fill="none" stroke="#000" stroke-width="1.4"/>
<rect x="194.75" y="350.95" width="14.3" height="14.3" fill="none" stroke="#000" stroke-width="1.4"/>
<rect x="224.25" y="333.25" width="14.3" height="14.3" fill="none" stroke="#000" stroke-width="1.4"/>
<rect x="254.45" y="311.65" width="14.3" height="14.3" fill="none" stroke="#000" stroke-width="1.4"/>
<rect x="283.85" y="296.61" width="14.3" height="14.3" fill="none" stroke="#000" stroke-width="1.4"/>
<rect x="313.55" y="285.95" width="14.3" height="14.3" fill="none" stroke="#000" stroke-width="1.4"/>
<rect x="343.65" y="280.25" width="14.3" height="14.3" fill="none" stroke="#000" stroke-width="1.4"/>
<rect x="373.25" y="274.75" width="14.3" height="14.3" fill="none" stroke="#000" stroke-width="1.4"/>
<rect x="402.45" y="270.45" width="14.3" height="14.3" fill="none" stroke="#000" stroke-width="1.4"/>
<rect x="432.15" y="264.75" width="14.3" height="14.3" fill="none" stroke="#000" stroke-width="1.4"/>
<rect x="461.85" y="258.95" width="14.3" height="14.3" fill="none" stroke="#000" stroke-width="1.4"/>
<rect x="491.35" y="252.75" width="14.3" height="14.3" fill="none" stroke="#000" stroke-width="1.4"/>
</g>
<g>
<path d="M104.6 358.8 L112.35 374.3 L96.85 374.3Z" fill="#000"/>
<path d="M134.4 358.3 L142.15 373.8 L126.65 373.8Z" fill="#000"/>
<path d="M163.75 205.5 L171.5 221 L156 221Z" fill="#000"/>
<path d="M193.4 198.5 L201.15 214 L185.65 214Z" fill="#000"/>
<path d="M223.5 196.3 L231.25 211.8 L215.75 211.8Z" fill="#000"/>
<path d="M252.5 195.3 L260.25 210.8 L244.75 210.8Z" fill="#000"/>
<path d="M282.3 194 L290.05 209.5 L274.55 209.5Z" fill="#000"/>
<path d="M311.7 193.7 L319.45 209.2 L303.95 209.2Z" fill="#000"/>
<path d="M341.6 193.5 L349.35 209 L333.85 209Z" fill="#000"/>
<path d="M371.7 193.3 L379.45 208.8 L363.95 208.8Z" fill="#000"/>
<path d="M401 193.1 L408.75 208.6 L393.25 208.6Z" fill="#000"/>
<path d="M431 193.1 L438.75 208.6 L423.25 208.6Z" fill="#000"/>
<path d="M461 193.1 L468.75 208.6 L453.25 208.6Z" fill="#000"/>
<path d="M491 193.05 L498.75 208.55 L483.25 208.55Z" fill="#000"/>
</g>
<g>
<path d="M116.4 353.5 L123.7 361.2 L116.4 368.9 L109.1 361.2Z" fill="#000"/>
<path d="M146 176.5 L153.3 184.2 L146 191.9 L138.7 184.2Z" fill="#000"/>
<path d="M176 117.4 L183.3 125.1 L176 132.8 L168.7 125.1Z" fill="#000"/>
<path d="M205.75 113.15 L213.05 120.85 L205.75 128.55 L198.45 120.85Z" fill="#000"/>
<path d="M235 111.15 L242.3 118.85 L235 126.55 L227.7 118.85Z" fill="#000"/>
<path d="M264 107.9 L271.3 115.6 L264 123.3 L256.7 115.6Z" fill="#000"/>
<path d="M294.5 106.15 L301.8 113.85 L294.5 121.55 L287.2 113.85Z" fill="#000"/>
<path d="M324 105.4 L331.3 113.1 L324 120.8 L316.7 113.1Z" fill="#000"/>
<path d="M353.75 104.9 L361.05 112.6 L353.75 120.3 L346.45 112.6Z" fill="#000"/>
<path d="M383.75 106.15 L391.05 113.85 L383.75 121.55 L376.45 113.85Z" fill="#000"/>
<path d="M413.25 105.65 L420.55 113.35 L413.25 121.05 L405.95 113.35Z" fill="#000"/>
<path d="M442.5 105.4 L449.8 113.1 L442.5 120.8 L435.2 113.1Z" fill="#000"/>
<path d="M472.5 105.4 L479.8 113.1 L472.5 120.8 L465.2 113.1Z" fill="#000"/>
</g>
<g>
<path d="M106 358.3 L112.2 365.2 L106 372.1 L99.8 365.2Z" fill="none" stroke="#000" stroke-width="1.4"/>
<path d="M135.4 323.9 L141.6 330.8 L135.4 337.7 L129.2 330.8Z" fill="none" stroke="#000" stroke-width="1.4"/>
<path d="M163.75 224.7 L169.95 231.6 L163.75 238.5 L157.55 231.6Z" fill="none" stroke="#000" stroke-width="1.4"/>
<path d="M193.75 179.7 L199.95 186.6 L193.75 193.5 L187.55 186.6Z" fill="none" stroke="#000" stroke-width="1.4"/>
<path d="M222.5 154.7 L228.7 161.6 L222.5 168.5 L216.3 161.6Z" fill="none" stroke="#000" stroke-width="1.4"/>
<path d="M252.5 140.7 L258.7 147.6 L252.5 154.5 L246.3 147.6Z" fill="none" stroke="#000" stroke-width="1.4"/>
<path d="M282.5 129.7 L288.7 136.6 L282.5 143.5 L276.3 136.6Z" fill="none" stroke="#000" stroke-width="1.4"/>
<path d="M312 121.7 L318.2 128.6 L312 135.5 L305.8 128.6Z" fill="none" stroke="#000" stroke-width="1.4"/>
<path d="M341 114.7 L347.2 121.6 L341 128.5 L334.8 121.6Z" fill="none" stroke="#000" stroke-width="1.4"/>
<path d="M371 110.7 L377.2 117.6 L371 124.5 L364.8 117.6Z" fill="none" stroke="#000" stroke-width="1.4"/>
<path d="M400.75 106.7 L406.95 113.6 L400.75 120.5 L394.55 113.6Z" fill="none" stroke="#000" stroke-width="1.4"/>
<path d="M430.75 106.2 L436.95 113.1 L430.75 120 L424.55 113.1Z" fill="none" stroke="#000" stroke-width="1.4"/>
<path d="M460 105.7 L466.2 112.6 L460 119.5 L453.8 112.6Z" fill="none" stroke="#000" stroke-width="1.4"/>
<path d="M490 106.2 L496.2 113.1 L490 120 L483.8 113.1Z" fill="none" stroke="#000" stroke-width="1.4"/>
</g>
<g>
<rect x="96.8" y="353.5" width="15.4" height="15.4" fill="#000"/>
<rect x="127.3" y="302.3" width="15.4" height="15.4" fill="#000"/>
<rect x="157.3" y="119.25" width="15.4" height="15.4" fill="#000"/>
<rect x="187.8" y="100.5" width="15.4" height="15.4" fill="#000"/>
<rect x="216.8" y="97.5" width="15.4" height="15.4" fill="#000"/>
<rect x="246.3" y="95" width="15.4" height="15.4" fill="#000"/>
<rect x="276.05" y="93.25" width="15.4" height="15.4" fill="#000"/>
<rect x="305.3" y="92.5" width="15.4" height="15.4" fill="#000"/>
<rect x="335.3" y="92" width="15.4" height="15.4" fill="#000"/>
<rect x="364.8" y="91.25" width="15.4" height="15.4" fill="#000"/>
<rect x="394.8" y="91.75" width="15.4" height="15.4" fill="#000"/>
<rect x="424.3" y="91.75" width="15.4" height="15.4" fill="#000"/>
<rect x="454.05" y="91.25" width="15.4" height="15.4" fill="#000"/>
<rect x="484.05" y="91.25" width="15.4" height="15.4" fill="#000"/>
</g>
<g>
<circle cx="111.3" cy="361.2" r="7.55" fill="#000"/>
<circle cx="141" cy="213.95" r="7.55" fill="#000"/>
<circle cx="170.75" cy="108.5" r="7.55" fill="#000"/>
<circle cx="200.75" cy="93" r="7.55" fill="#000"/>
<circle cx="230" cy="89.75" r="7.55" fill="#000"/>
<circle cx="260" cy="86.5" r="7.55" fill="#000"/>
<circle cx="289" cy="86" r="7.55" fill="#000"/>
<circle cx="318.75" cy="85.5" r="7.55" fill="#000"/>
<circle cx="348.75" cy="84.5" r="7.55" fill="#000"/>
<circle cx="378" cy="84" r="7.55" fill="#000"/>
<circle cx="408.75" cy="83.5" r="7.55" fill="#000"/>
<circle cx="438.25" cy="83" r="7.55" fill="#000"/>
<circle cx="468" cy="82.5" r="7.55" fill="#000"/>
<circle cx="497.5" cy="81.75" r="7.55" fill="#000"/>
</g>
<g transform="rotate(0.1 296.6 214.6)">
<rect x="91.15" y="22.27" width="410.85" height="384.83" fill="none" stroke="#000" stroke-width="1.3"/>
<path d="M91.15 359 h16.5 M502 359 h-16.5 M91.15 310.89 h16.5 M502 310.89 h-16.5 M91.15 262.79 h16.5 M502 262.79 h-16.5 M91.15 214.69 h16.5 M502 214.69 h-16.5 M91.15 166.58 h16.5 M502 166.58 h-16.5 M91.15 118.48 h16.5 M502 118.48 h-16.5 M91.15 70.37 h16.5 M502 70.37 h-16.5 M228.1 407.1 v-16.5 M228.1 22.27 v16.5 M365.05 407.1 v-16.5 M365.05 22.27 v16.5" stroke="#000" stroke-width="1.3" fill="none"/>
</g>
</g>
<g font-family="'Liberation Sans', Arial, Helvetica, sans-serif" font-size="32" fill="#000" stroke="#000" stroke-width="0.3">
<text x="81.9" y="413" text-anchor="end" textLength="17.6" lengthAdjust="spacingAndGlyphs">0</text>
<text x="81.9" y="364.9" text-anchor="end" textLength="42.6" lengthAdjust="spacingAndGlyphs">0.1</text>
<text x="81.9" y="316.79" text-anchor="end" textLength="42.6" lengthAdjust="spacingAndGlyphs">0.2</text>
<text x="81.9" y="268.69" text-anchor="end" textLength="42.6" lengthAdjust="spacingAndGlyphs">0.3</text>
<text x="81.9" y="220.59" text-anchor="end" textLength="42.6" lengthAdjust="spacingAndGlyphs">0.4</text>
<text x="81.9" y="172.48" text-anchor="end" textLength="42.6" lengthAdjust="spacingAndGlyphs">0.5</text>
<text x="81.9" y="124.38" text-anchor="end" textLength="42.6" lengthAdjust="spacingAndGlyphs">0.6</text>
<text x="81.9" y="76.27" text-anchor="end" textLength="42.6" lengthAdjust="spacingAndGlyphs">0.7</text>
<text x="81.9" y="28.17" text-anchor="end" textLength="42.6" lengthAdjust="spacingAndGlyphs">0.8</text>
<text x="91.15" y="442.5" text-anchor="middle" textLength="17.4" lengthAdjust="spacingAndGlyphs">0</text>
<text x="228.1" y="442.5" text-anchor="middle" textLength="34.4" lengthAdjust="spacingAndGlyphs">20</text>
<text x="365.05" y="442.5" text-anchor="middle" textLength="34.4" lengthAdjust="spacingAndGlyphs">40</text>
<text x="502" y="442.5" text-anchor="middle" textLength="34.4" lengthAdjust="spacingAndGlyphs">60</text>
<rect x="65" y="361.9" width="7.1" height="4.4" fill="#fff" stroke="none"/><rect x="75.9" y="361.9" width="5.6" height="4.4" fill="#fff" stroke="none"/>
<text x="297.5" y="465.5" text-anchor="middle" font-size="28.5" textLength="145" lengthAdjust="spacingAndGlyphs">Time (min)</text>
<text transform="translate(28.2 215.5) rotate(-90)" text-anchor="middle" font-size="29" textLength="294" lengthAdjust="spacingAndGlyphs">Absorbance (405 nm)</text>
</g>
</svg>
</body>
</html>
